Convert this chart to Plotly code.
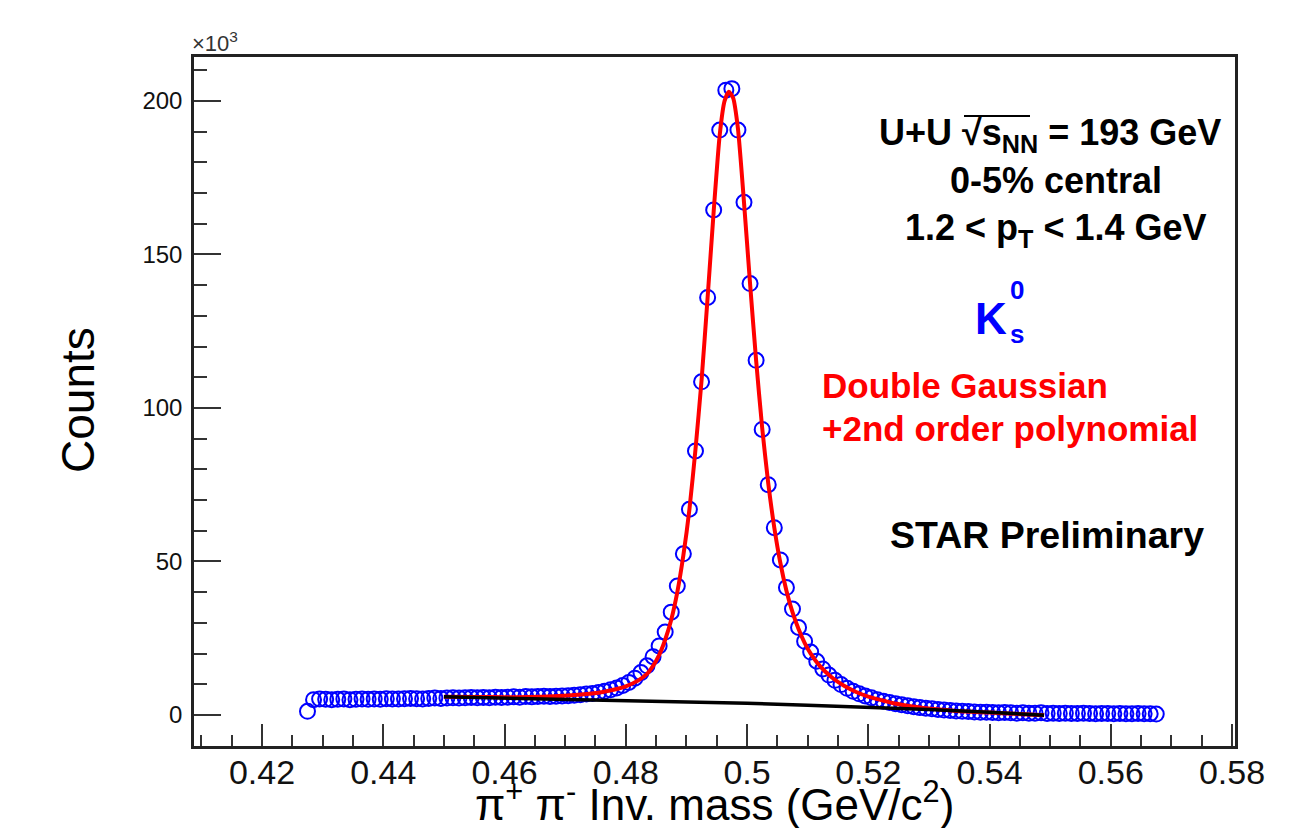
import numpy as np
import plotly.graph_objects as go

# ---------------- data (counts in units of 10^3) ----------------
BIN_FIRST_CENTER = 0.4275
BIN_WIDTH = 0.001
counts = [
    1.2,
    5.0, 5.2, 5.1, 5.0, 5.1, 5.2, 5.0, 5.1, 5.2, 5.1,
    5.2, 5.1, 5.3, 5.2, 5.2, 5.3, 5.4, 5.3, 5.2, 5.4,
    5.5, 5.4, 5.5, 5.6, 5.5, 5.6, 5.7, 5.6, 5.7, 5.6,
    5.8, 5.7, 5.8, 5.9, 5.8, 6.0, 5.9, 6.0, 6.1, 6.0,
    6.1, 6.2,
    6.3, 6.4, 6.6, 6.8, 7.0, 7.3, 7.7, 8.2, 8.8, 9.6,
    10.6, 12.0, 13.8, 16.0, 19.0, 22.5, 27.0, 33.5, 42.0, 52.5,
    67.0, 86.0, 108.5, 136.0, 164.5, 190.5, 203.5, 204.0, 190.5, 167.0,
    140.5, 115.5, 93.0, 75.0, 61.0, 50.5, 41.5, 34.5, 28.5, 24.0,
    20.5, 17.5, 15.0, 13.0, 11.3, 9.9, 8.7, 7.7, 6.9, 6.2,
    5.6, 5.0, 4.5, 4.1, 3.7, 3.3, 3.0, 2.7, 2.4, 2.2,
    2.0, 1.8, 1.6, 1.5, 1.3, 1.2, 1.1, 1.0, 0.9, 0.9,
    0.8, 0.7, 0.8, 0.7, 0.6, 0.7, 0.6, 0.6, 0.7, 0.5,
    0.6, 0.5, 0.6, 0.5, 0.5, 0.6, 0.5, 0.4, 0.5, 0.5,
    0.4, 0.5, 0.4, 0.4, 0.5, 0.4, 0.4, 0.3,
]
mass = [round(BIN_FIRST_CENTER + BIN_WIDTH * i, 4) for i in range(len(counts))]

# total fit (double Gaussian + 2nd order polynomial)
fit_x = [0.450, 0.455, 0.460, 0.464, 0.468, 0.471, 0.474, 0.476, 0.478, 0.480,
         0.482, 0.4835, 0.4845, 0.4855, 0.4865, 0.4875, 0.4885, 0.4895, 0.4905, 0.4915,
         0.4925, 0.4935, 0.4945, 0.4955, 0.4963, 0.4970, 0.4977, 0.4985, 0.4995, 0.5005,
         0.5015, 0.5025, 0.5035, 0.5045, 0.5055, 0.5065, 0.5075, 0.5085, 0.5095, 0.5105,
         0.5120, 0.5140, 0.5160, 0.5180, 0.5200, 0.5220, 0.5240, 0.5260, 0.5280, 0.5300,
         0.5330, 0.5360, 0.5400, 0.5440, 0.5490]
fit_y = [5.9, 5.85, 5.8, 5.85, 6.1, 6.4, 6.9, 7.4, 8.2, 9.3,
         11.2, 13.4, 16.0, 19.5, 24.5, 31.0, 40.0, 52.0, 67.0, 86.5,
         109.0, 136.0, 164.0, 189.0, 200.0, 203.0, 201.0, 191.0, 167.0, 140.5,
         115.5, 93.5, 75.5, 61.0, 49.5, 40.5, 33.5, 28.0, 23.5, 20.0,
         16.0, 12.2, 9.5, 7.5, 6.0, 4.9, 3.9, 3.2, 2.6, 2.1,
         1.6, 1.1, 0.8, 0.4, -0.1]

# residual background (2nd order polynomial)
bkg_x = [0.450, 0.460, 0.470, 0.480, 0.490, 0.500, 0.510, 0.520, 0.530, 0.540, 0.549]
bkg_y = [5.9, 5.5, 5.1, 4.7, 4.3, 3.8, 3.2, 2.6, 1.8, 0.9, -0.1]

x_tick_vals = [0.42, 0.44, 0.46, 0.48, 0.50, 0.52, 0.54, 0.56, 0.58]
x_tick_text = ["0.42", "0.44", "0.46", "0.48", "0.5", "0.52", "0.54", "0.56", "0.58"]
y_tick_vals = [0, 50, 100, 150, 200]
y_tick_text = ["0", "50", "100", "150", "200"]

# ---------------- layout geometry ----------------
W, H = 1311, 828
L, R, T, B = 194, 1235, 57, 746


def px(x):
    return (x - L) / (R - L)


def py(y):
    return (B - y) / (B - T)


FONT = "Liberation Sans, Arial, Helvetica, sans-serif"

fig = go.Figure()
fig.add_trace(go.Scatter(
    x=mass, y=counts, mode="markers",
    marker=dict(symbol="circle-open", size=15, color="#0000ff",
                line=dict(width=2, color="#0000ff")),
    showlegend=False, hoverinfo="skip"))
fig.add_trace(go.Scatter(
    x=fit_x, y=fit_y, mode="lines",
    line=dict(color="#ff0000", width=4, shape="spline", smoothing=0.6),
    showlegend=False, hoverinfo="skip"))
fig.add_trace(go.Scatter(
    x=bkg_x, y=bkg_y, mode="lines", line=dict(color="#000000", width=3.5),
    showlegend=False, hoverinfo="skip"))

axis_common = dict(showgrid=False, zeroline=False, showline=True, linewidth=2.5,
                   linecolor="#222222", mirror=True, ticks="inside", tickwidth=2,
                   tickcolor="#333333")

fig.update_xaxes(**axis_common, range=[0.40878, 0.58049],
                 tickvals=x_tick_vals, ticktext=x_tick_text, ticklen=22,
                 tickfont=dict(family=FONT, size=34, color="#111111"),
                 ticklabelstandoff=-6,
                 minor=dict(dtick=0.005, tick0=0.40, ticks="inside", ticklen=11,
                            tickwidth=2, tickcolor="#333333"))
fig.update_yaxes(**axis_common, range=[-10.1, 214.3],
                 tickvals=y_tick_vals, ticktext=y_tick_text, ticklen=27,
                 tickfont=dict(family=FONT, size=24, color="#111111"),
                 ticklabelstandoff=4,
                 minor=dict(dtick=10, tick0=0, ticks="inside", ticklen=13,
                            tickwidth=2, tickcolor="#333333"))

ann = []


def add_text(text, x, y, size, color="#000000", xanchor="center", yanchor="middle",
             angle=0):
    ann.append(dict(text=text, x=px(x), y=py(y), xref="paper", yref="paper",
                    xanchor=xanchor, yanchor=yanchor, showarrow=False,
                    textangle=angle,
                    font=dict(family=FONT, size=size, color=color)))


add_text("×10<sup>3</sup>", 190, 42, 22, color="#333333", xanchor="left")
add_text("Counts", 78, 400, 46, angle=-90)
add_text("π<sup>+</sup> π<sup>-</sup> Inv. mass (GeV/c<sup>2</sup>)", 714, 801, 44)

add_text("<b>U+U √s<sub>NN</sub> = 193 GeV</b>", 1050, 135, 36)
add_text("<b>0-5% central</b>", 1056, 180, 36)
add_text("<b>1.2 &lt; p<sub>T</sub> &lt; 1.4 GeV</b>", 1056, 230, 36)

add_text("<b>K</b>", 991, 318, 44, color="#0000ff")
add_text("<b>0</b>", 1017, 290, 26, color="#0000ff")
add_text("<b>s</b>", 1017, 334, 26, color="#0000ff")

add_text("<b>Double Gaussian</b>", 820, 385, 35, color="#ff0000", xanchor="left")
add_text("<b>+2nd order polynomial</b>", 820, 428, 35, color="#ff0000", xanchor="left")

add_text("<b>STAR Preliminary</b>", 888, 535, 37.5, xanchor="left")

fig.update_layout(
    width=W, height=H,
    margin=dict(l=L, r=W - R, t=T, b=H - B, pad=0),
    paper_bgcolor="white", plot_bgcolor="white",
    annotations=ann,
    shapes=[dict(type="line", xref="paper", yref="paper",
                 x0=px(964), x1=px(1030), y0=py(116), y1=py(116),
                 line=dict(color="#000000", width=2))],
)

fig.write_html("out.html")
